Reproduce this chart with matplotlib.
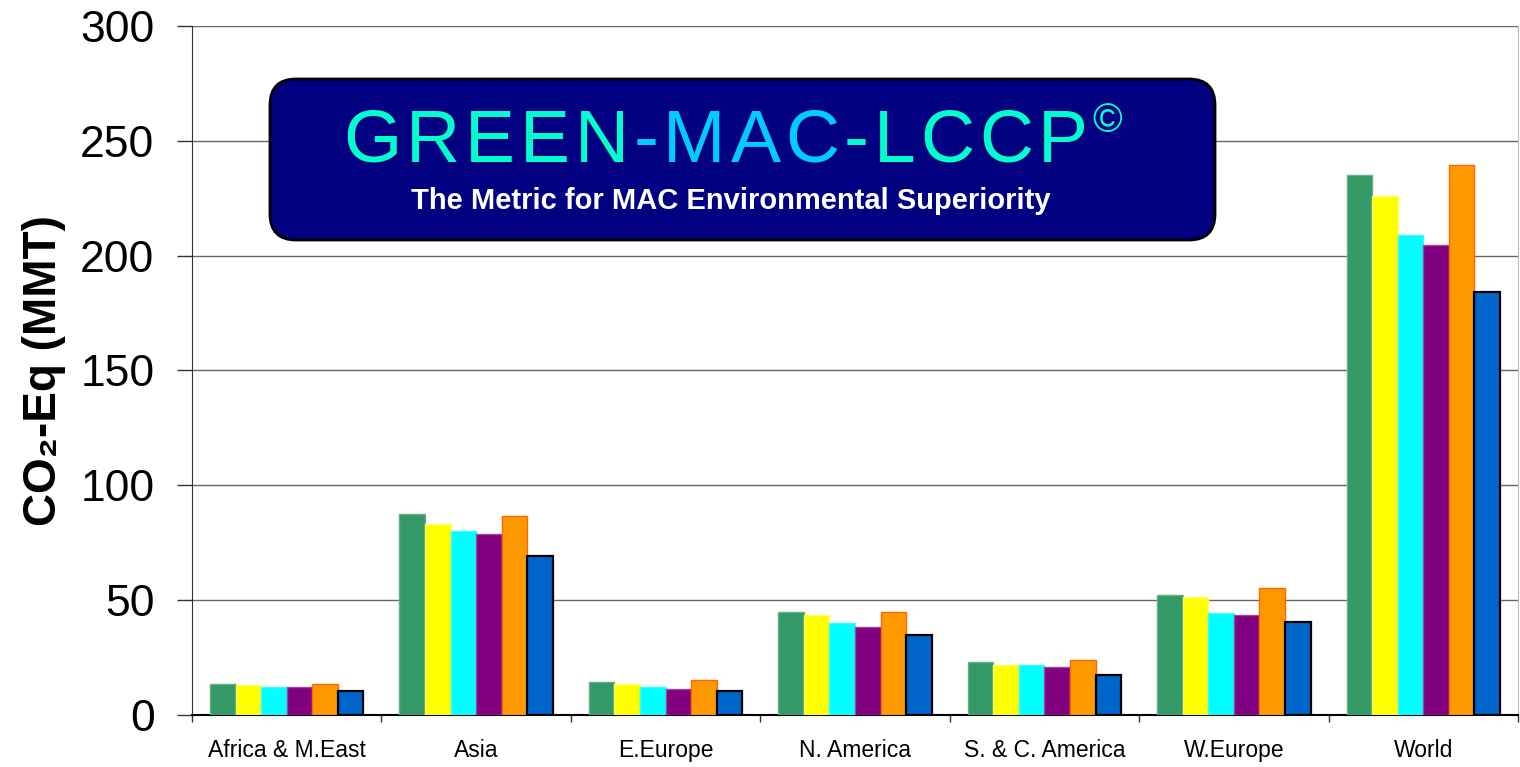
import matplotlib
matplotlib.use("Agg")
import matplotlib.pyplot as plt
import numpy as np
from matplotlib.patches import FancyBboxPatch

categories = ["Africa & M.East", "Asia", "E.Europe", "N. America",
              "S. & C. America", "W.Europe", "World"]
s1 = [13.7, 87.6, 14.4, 45.0, 23.1, 52.2, 235.0]   # green
s2 = [13.0, 83.0, 13.5, 43.7, 21.7, 51.3, 225.8]   # yellow
s3 = [12.2, 79.9, 12.2, 40.0, 21.7, 44.5, 209.0]   # cyan
s4 = [12.2, 78.6, 11.4, 38.4, 20.9, 43.7, 204.5]   # purple
s5 = [13.7, 86.8, 15.2, 45.0, 23.9, 55.1, 239.6]   # orange
s6 = [10.3, 69.1, 10.3, 35.0, 17.6, 40.6, 184.3]   # blue
series = [s1, s2, s3, s4, s5, s6]
face = ["#339966", "#FFFF00", "#00FFFF", "#800080", "#FF9900", "#0066CC"]
edge = ["#66B088", "#FFFF66", "#33FFFF", "#9A4A9A", "#FF6600", "#000000"]
yticks = [0, 50, 100, 150, 200, 250, 300]

W, H = 1520, 767
fig = plt.figure(figsize=(W / 100, H / 100), dpi=100)
ax = fig.add_axes([192 / W, 1 - 715 / H, (1518 - 192) / W, (715 - 26) / H])

x = np.arange(len(categories))
bw = 0.135
for i, (vals, fc, ec) in enumerate(zip(series, face, edge)):
    ax.bar(x + (i - 2.5) * bw, vals, width=bw, color=fc, edgecolor=ec,
           linewidth=1.6 if i == 5 else 1.0, zorder=3)

ax.set_xlim(-0.5, len(categories) - 0.5)
ax.set_ylim(0, 300)
ax.set_yticks(yticks)
ax.set_yticklabels([str(v) for v in yticks], fontsize=32, family="Liberation Sans")
ax.yaxis.grid(True, color="#666666", linewidth=1.0, zorder=0)
ax.set_xticks(x)
ax.set_xticklabels(categories, fontsize=16.5, family="Liberation Sans")
ax.tick_params(axis="x", which="major", length=0, pad=17.5)
ax.set_xticks(np.arange(-0.5, len(categories) + 0.5, 1.0), minor=True)
ax.tick_params(axis="x", which="minor", length=5, width=1, color="#333333")
ax.tick_params(axis="y", length=11, width=1, pad=16, color="#333333")
ax.spines["top"].set_visible(False)
ax.spines["right"].set_color("#BBBBBB")
ax.spines["left"].set_color("#333333")
ax.spines["bottom"].set_color("#000000")
ax.spines["bottom"].set_linewidth(1.5)

ax.set_ylabel("CO\u2082-Eq (MMT)", fontsize=33, fontweight="bold",
              family=["Liberation Sans", "DejaVu Sans"])
ax.yaxis.set_label_coords((66 - 192) / (1518 - 192), 0.5)

# Overlay in pixel coordinates for the title box
ov = fig.add_axes([0, 0, 1, 1], zorder=10)
ov.set_xlim(0, W)
ov.set_ylim(H, 0)
ov.axis("off")
box = FancyBboxPatch((270, 79), 945, 161, boxstyle="round,pad=0,rounding_size=26",
                     facecolor="#000080", edgecolor="#000000", linewidth=2)
ov.add_patch(box)

fig.canvas.draw()
renderer = fig.canvas.get_renderer()
title = "GREEN-MAC-LCCP"
colors = ["#00FFCC"] * 5 + ["#00CCFF"] * 4 + ["#00FFCC"] * 5
arts = []
widths = []
for ch, col in zip(title, colors):
    t = ov.text(0, 162, ch, color=col, fontsize=54, family="Liberation Sans",
                va="baseline", ha="left")
    arts.append(t)
    widths.append(t.get_window_extent(renderer).width)
target = 1088 - 343
track = (target - sum(widths)) / (len(title) - 1)
xpos = 343
for t, w in zip(arts, widths):
    t.set_x(xpos)
    xpos += w + track
ov.text(xpos - track + 4, 132, "\u00a9", color="#00FFCC", fontsize=29,
        family="Liberation Sans", va="baseline", ha="left")
ov.text(731, 201, "The Metric for MAC Environmental Superiority", color="white",
        fontsize=21, fontweight="bold", family="Liberation Sans", ha="center",
        va="center")

fig.savefig("out.png", dpi=100)
